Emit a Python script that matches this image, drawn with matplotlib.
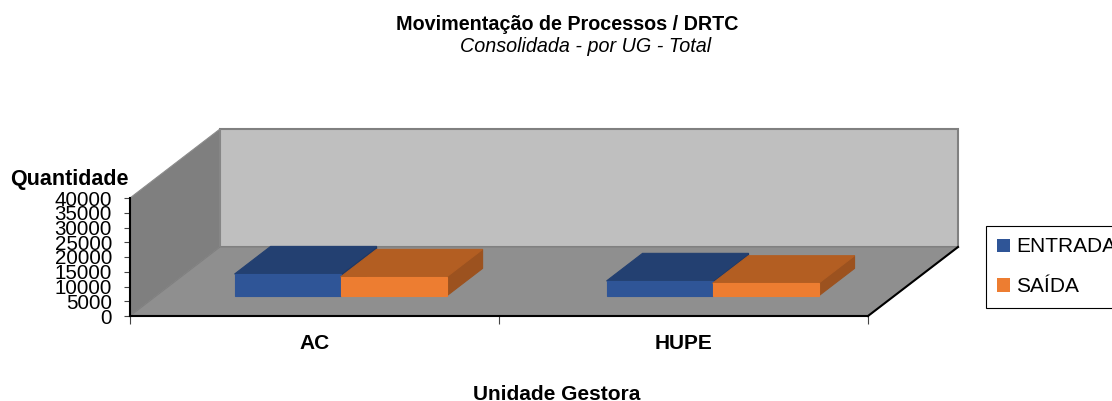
import matplotlib
matplotlib.use('Agg')
import matplotlib.pyplot as plt
from matplotlib.patches import Polygon, Patch

plt.rcParams['font.family'] = ['Liberation Sans', 'DejaVu Sans']

categories = ['AC', 'HUPE']
entrada = [7450, 5100]
saida = [6450, 4300]
y_ticks = [0, 5000, 10000, 15000, 20000, 25000, 30000, 35000, 40000]
y_max = 40000

# size of the fake 3d box, in data units
depth_x = 90 / 369
depth_y = 69 / 118 * y_max
bar_w = 106 / 369
bar_start = 0.29   # where the bar sits in the depth
bar_depth = 0.40


def proj(x, y, d):
    return (x + d * depth_x, y + d * depth_y)


def face(ax, pts, color, edge=None, lw=0.8, z=1):
    ax.add_patch(Polygon([proj(*p) for p in pts], closed=True, facecolor=color,
                         edgecolor=edge if edge else color, linewidth=lw,
                         clip_on=False, zorder=z))


def bar3d(ax, x0, h, front, top, side):
    d0 = bar_start
    d1 = bar_start + bar_depth
    x1 = x0 + bar_w
    face(ax, [(x1, 0, d0), (x1, 0, d1), (x1, h, d1), (x1, h, d0)], side, z=3)
    face(ax, [(x0, h, d0), (x1, h, d0), (x1, h, d1), (x0, h, d1)], top, z=3)
    face(ax, [(x0, 0, d0), (x1, 0, d0), (x1, h, d0), (x0, h, d0)], front, z=3)


fig = plt.figure(figsize=(11.12, 4.01), dpi=100)
ax = fig.add_axes([130 / 1112, (401 - 316) / 401, 738 / 1112, 118 / 401])
ax.set_xlim(0, 2)
ax.set_ylim(0, y_max)
ax.patch.set_alpha(0)

# walls and floor
face(ax, [(0, 0, 1), (2, 0, 1), (2, y_max, 1), (0, y_max, 1)], '#bfbfbf', '#808080', 1.5)
face(ax, [(0, 0, 0), (0, 0, 1), (0, y_max, 1), (0, y_max, 0)], '#7f7f7f', '#8c8c8c', 0.8)
face(ax, [(0, 0, 0), (2, 0, 0), (2, 0, 1), (0, 0, 1)], '#8f8f8f', '#808080', 0.8)
ax.plot(*zip(proj(2, 0, 0), proj(2, 0, 1)), color='black', lw=1.5, clip_on=False, zorder=2)

for i in range(len(categories)):
    x_mid = i + 0.5 + (0.008 if i == 1 else 0)
    bar3d(ax, x_mid - bar_w, entrada[i], '#2f5597', '#234071', '#1f3864')
    bar3d(ax, x_mid, saida[i], '#ed7d31', '#b35e22', '#9c521f')

ax.spines['top'].set_visible(False)
ax.spines['right'].set_visible(False)
ax.spines['left'].set_linewidth(1.5)
ax.spines['bottom'].set_linewidth(1.5)
ax.spines['left'].set_zorder(5)
ax.spines['bottom'].set_zorder(5)

ax.set_yticks(y_ticks)
ax.tick_params(axis='y', labelsize=14.8, length=4, pad=9, width=0.8, color='#444444')
ax.set_xticks([0, 1, 2])
ax.set_xticklabels([])
ax.set_xticks([0.5, 1.5], minor=True)
ax.set_xticklabels(categories, minor=True, fontsize=15, fontweight='bold')
ax.tick_params(axis='x', which='major', length=6, width=0.8, color='#444444')
ax.tick_params(axis='x', which='minor', length=0, pad=13)

fig.text(567 / 1112, 1 - 24 / 401, 'Movimentação de Processos / DRTC', ha='center', va='center',
         fontsize=14.2, fontweight='bold')
fig.text(586 / 1112, 1 - 47 / 401, 'Consolidada - por UG - Total', ha='center', va='center',
         fontsize=14.2, fontstyle='italic')
fig.text(69 / 1112, 1 - 179 / 401, 'Quantidade', ha='center', va='center',
         fontsize=15.5, fontweight='bold')
fig.text(557 / 1112, 1 - 394 / 401, 'Unidade Gestora', ha='center', va='center',
         fontsize=15, fontweight='bold')

handles = [Patch(facecolor='#2f5597', label='ENTRADA'), Patch(facecolor='#ed7d31', label='SAÍDA')]
leg = fig.legend(handles=handles, loc='upper left', bbox_to_anchor=(986 / 1112, 1 - 226 / 401),
                 bbox_transform=fig.transFigure, fontsize=15, frameon=True, fancybox=False,
                 edgecolor='black', framealpha=1, borderaxespad=0, borderpad=0.55,
                 handlelength=0.6, handleheight=0.6, handletextpad=0.3, labelspacing=1.0)
leg.get_frame().set_linewidth(0.8)

fig.savefig('out.png', dpi=100)
